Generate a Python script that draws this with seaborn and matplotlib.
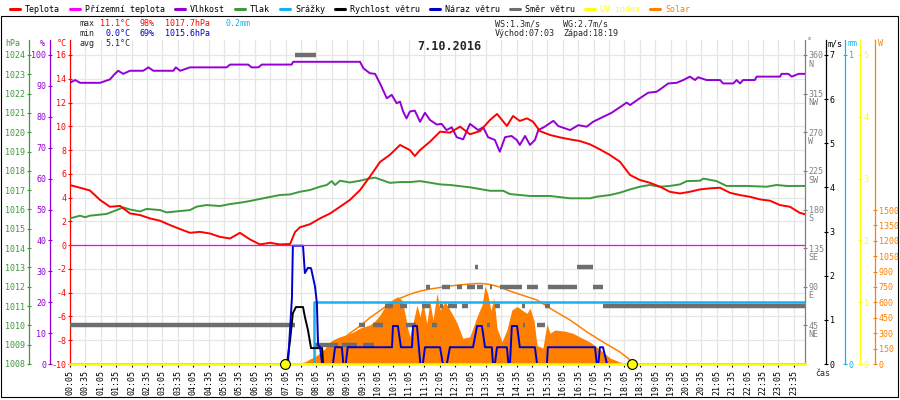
"""Daily weather station chart for 7.10.2016 (temperature, humidity, pressure,
rain, wind, solar) drawn with seaborn / matplotlib on stacked twin axes."""

import matplotlib
matplotlib.use("Agg")
import matplotlib.pyplot as plt
import pandas as pd
import seaborn as sns
from matplotlib.lines import Line2D
from matplotlib.patches import Rectangle

sns.set_theme(style="white")
plt.rcParams["font.family"] = ["DejaVu Sans Mono", "DejaVu Sans"]

# --------------------------------------------------------------------------
# Data (time in decimal hours)
# --------------------------------------------------------------------------
TEMP_TIME = [0.08, 0.41, 0.73, 1.06, 1.38, 1.71, 2.03, 2.36, 2.68, 3.01, 3.33,
             3.66, 3.98, 4.30, 4.63, 4.95, 5.28, 5.60, 5.93, 6.25, 6.58, 6.90,
             7.23, 7.39, 7.55, 7.88, 8.20, 8.53, 8.85, 9.17, 9.50, 9.82, 10.15,
             10.47, 10.80, 11.12, 11.28, 11.45, 11.77, 12.10, 12.42, 12.75,
             13.07, 13.40, 13.72, 13.95, 14.27, 14.47, 14.69, 14.92, 15.12,
             15.34, 15.67, 15.99, 16.32, 16.64, 16.97, 17.29, 17.62, 17.94,
             18.27, 18.59, 18.91, 19.24, 19.56, 19.89, 20.21, 20.54, 20.86,
             21.19, 21.51, 21.84, 22.16, 22.49, 22.81, 23.14, 23.46, 23.78, 23.95]
TEMP_VAL = [5.06, 4.83, 4.6, 3.8, 3.23, 3.3, 2.67, 2.53, 2.25, 2.05, 1.69,
            1.35, 1.04, 1.12, 0.98, 0.70, 0.56, 1.04, 0.48, 0.06, 0.2, 0.06,
            0.1, 1.1, 1.5, 1.77, 2.25, 2.67, 3.23, 3.8, 4.63, 5.76, 7.0,
            7.6, 8.43, 8.0, 7.5, 8.0, 8.7, 9.55, 9.47, 9.97,
            9.33, 9.6, 10.53, 11.04, 10.03, 10.87, 10.45, 10.67, 10.39,
            9.6, 9.27, 9.07, 8.9, 8.76, 8.48, 8.06, 7.58, 7.02,
            5.9, 5.48, 5.25, 4.92, 4.49, 4.35, 4.49, 4.69, 4.78,
            4.83, 4.41, 4.21, 4.07, 3.85, 3.74, 3.37, 3.23, 2.72, 2.6]

GROUND_TIME = [0.08, 23.95]
GROUND_VAL = [0.0, 0.0]

HUM_TIME = [0.08, 0.25, 0.41, 1.06, 1.38, 1.54, 1.65, 1.81, 2.03, 2.46, 2.63,
            2.79, 3.44, 3.52, 3.66, 3.98, 5.17, 5.28, 5.87, 5.98, 6.20, 6.31,
            7.28, 7.33, 9.50, 9.61, 9.82, 9.99, 10.15, 10.37, 10.53, 10.69,
            10.80, 10.90, 11.01, 11.12, 11.28, 11.45, 11.61, 11.77, 11.99,
            12.15, 12.31, 12.48, 12.64, 12.85, 13.07, 13.34, 13.50, 13.66,
            13.88, 14.04, 14.21, 14.42, 14.59, 14.69, 14.86, 15.02, 15.18,
            15.29, 15.50, 15.78, 15.94, 16.32, 16.59, 16.86, 17.07, 17.40,
            17.67, 18.00, 18.16, 18.27, 18.54, 18.86, 19.13, 19.29, 19.51,
            19.78, 20.00, 20.21, 20.38, 20.48, 20.75, 21.19, 21.29, 21.62,
            21.73, 21.84, 21.94, 22.32, 22.38, 23.14, 23.19, 23.41, 23.52,
            23.74, 23.95]
HUM_VAL = [91.0, 91.9, 91.0, 91.0, 92.1, 93.9, 94.9, 93.9, 94.9, 94.9, 96.0,
           94.9, 94.9, 96.0, 94.9, 96.0, 96.0, 96.9, 96.9, 96.0, 96.0, 96.9,
           96.9, 97.8, 97.8, 95.7, 94.1, 93.9, 90.8, 86.0, 87.1, 84.4,
           84.9, 81.7, 79.5, 81.7, 82.0, 78.4, 81.3, 79.0, 77.5,
           77.7, 75.7, 76.6, 73.4, 72.7, 77.7, 75.7, 76.6, 73.4,
           72.5, 68.7, 73.4, 73.8, 72.5, 70.9, 73.8, 70.9, 72.5,
           75.7, 76.8, 78.7, 77.0, 75.7, 77.3, 76.8, 78.4, 80.0,
           81.3, 83.5, 84.6, 83.8, 85.7, 87.8, 88.1, 89.2, 90.8,
           91.0, 91.9, 93.0, 91.9, 92.8, 91.9, 91.9, 90.8, 90.8,
           91.9, 90.8, 91.9, 91.9, 93.0, 93.0, 93.9, 93.9, 93.0,
           93.9, 93.9]

PRES_TIME = [0.08, 0.41, 0.57, 0.73, 1.27, 1.60, 1.81, 2.03, 2.36, 2.57, 3.01,
             3.22, 3.66, 3.98, 4.20, 4.52, 4.95, 5.28, 5.60, 5.93, 6.36, 6.90,
             7.23, 7.55, 7.88, 8.20, 8.42, 8.58, 8.69, 8.85, 9.17, 9.50, 9.82,
             9.99, 10.47, 10.80, 11.12, 11.45, 11.77, 12.10, 12.42, 13.07,
             13.72, 14.15, 14.37, 15.02, 15.67, 16.32, 16.97, 17.18, 17.62,
             17.94, 18.27, 18.59, 18.91, 19.24, 19.56, 19.89, 20.11, 20.54,
             20.65, 21.08, 21.40, 22.05, 22.70, 23.03, 23.35, 23.95]
PRES_VAL = [1015.54, 1015.68, 1015.60, 1015.68, 1015.77, 1015.97, 1016.11,
            1016.00, 1015.90, 1016.03, 1015.97, 1015.85, 1015.92, 1015.97,
            1016.15, 1016.23, 1016.18, 1016.28, 1016.35, 1016.44, 1016.58,
            1016.75, 1016.78, 1016.92, 1017.01, 1017.18, 1017.27, 1017.47,
            1017.27, 1017.49, 1017.40, 1017.49, 1017.61, 1017.65, 1017.38,
            1017.42, 1017.42, 1017.47, 1017.39, 1017.30, 1017.27, 1017.15,
            1016.97, 1016.97, 1016.80, 1016.70, 1016.70, 1016.58, 1016.58,
            1016.66, 1016.75, 1016.87, 1017.04, 1017.18, 1017.27, 1017.18,
            1017.22, 1017.30, 1017.47, 1017.49, 1017.60, 1017.47, 1017.22,
            1017.22, 1017.18, 1017.27, 1017.22, 1017.22]

RAIN_TIME = [0.08, 8.0, 23.95]
RAIN_VAL = [0.0, 0.2, 0.2]

SPEED_TIME = [0.08, 7.13, 7.23, 7.32, 7.42, 7.65, 7.71, 7.81, 7.91, 8.27, 8.30, 23.95]
SPEED_VAL = [0.0, 0.0, 0.54, 1.15, 1.29, 1.29, 1.07, 0.77, 0.36, 0.36, 0.0, 0.0]

GUST_TIME = [0.08, 7.16, 7.29, 7.32, 7.65, 7.71, 7.81, 7.91, 7.97, 8.04, 8.10,
             8.14, 8.20, 8.27, 8.62, 8.69, 8.91, 8.96, 9.04, 9.10, 10.54, 10.57,
             10.73, 10.83, 11.19, 11.22, 11.35, 11.46, 11.54, 11.61, 12.10,
             12.19, 12.32, 12.42, 13.17, 13.30, 13.46, 13.56, 13.78, 13.82,
             13.88, 13.95, 14.27, 14.32, 14.37, 14.43, 14.60, 14.69, 15.18,
             15.25, 15.57, 15.60, 17.13, 17.19, 17.24, 17.29, 17.39, 17.52, 23.95]
GUST_VAL = [0.0, 0.0, 1.5, 2.68, 2.68, 2.06, 2.18, 2.17, 1.98, 1.75, 1.38,
            0.43, 0.39, 0.0, 0.0, 0.38, 0.38, 0.0, 0.0, 0.38, 0.38, 0.86,
            0.86, 0.38, 0.38, 0.86, 0.86, 0.0, 0.0, 0.38, 0.38,
            0.0, 0.0, 0.38, 0.38, 0.86, 0.86, 0.38, 0.38, 0.0,
            0.0, 0.38, 0.38, 0.0, 0.0, 0.86, 0.86, 0.38, 0.38,
            0.0, 0.0, 0.38, 0.38, 0.0, 0.0, 0.38, 0.38, 0.0, 0.0]

# wind direction: runs of constant direction (start, end, degrees)
DIR_START = [0.08, 7.39, 8.04, 8.91, 9.60, 9.47, 9.92, 10.99, 11.84, 13.62,
             14.79, 15.25, 10.31, 10.80, 11.51, 12.10, 12.36, 12.81, 13.88,
             14.76, 15.51, 17.39, 11.64, 12.16, 12.65, 12.97, 13.30, 13.72,
             14.04, 14.92, 15.60, 17.06, 13.23, 16.54]
DIR_END = [7.39, 8.07, 8.78, 9.40, 9.95, 9.66, 10.25, 11.32, 12.00, 13.72,
           14.86, 15.51, 10.57, 11.02, 11.77, 12.19, 12.65, 13.01, 14.04,
           14.86, 15.67, 23.95, 11.77, 12.42, 12.81, 13.23, 13.49, 13.78,
           14.76, 15.28, 16.54, 17.39, 13.33, 17.06]
DIR_DEG = [45, 360, 22.5, 22.5, 22.5, 45, 45, 45, 45, 45,
           45, 45, 67.5, 67.5, 67.5, 67.5, 67.5, 67.5, 67.5,
           67.5, 67.5, 67.5, 90, 90, 90, 90, 90, 90,
           90, 90, 90, 90, 112.5, 112.5]

SOLAR_TIME = [7.00, 7.23, 7.55, 7.71, 7.88, 8.04, 8.20, 8.36, 8.53, 8.69, 8.85,
              9.01, 9.17, 9.34, 9.50, 9.66, 9.82, 9.99, 10.15, 10.31, 10.47,
              10.63, 10.73, 10.86, 10.96, 11.06, 11.12, 11.22, 11.35, 11.45,
              11.54, 11.67, 11.77, 11.87, 12.00, 12.10, 12.26, 12.42, 12.65,
              12.84, 13.07, 13.30, 13.46, 13.56, 13.65, 13.75, 13.85, 13.95,
              14.11, 14.27, 14.43, 14.60, 14.76, 14.92, 15.02, 15.15, 15.25,
              15.44, 15.57, 15.67, 15.83, 16.15, 16.41, 16.64, 16.97, 17.19,
              17.39, 17.62, 17.94, 18.27]
SOLAR_VAL = [0, 3, 10, 20, 50, 70, 110, 150, 217, 245, 266,
             280, 298, 320, 350, 365, 380, 420, 477, 558, 607,
             640, 655, 623, 493, 330, 266, 396, 574, 461,
             607, 396, 607, 428, 690, 526, 607, 526, 400,
             250, 266, 461, 574, 760, 680, 520, 640, 350,
             217, 331, 526, 560, 526, 493, 545, 420, 180,
             156, 390, 300, 331, 320, 300, 263, 214, 166,
             117, 58, 19, 0]

CLEAR_TIME = [7.03, 7.97, 8.20, 8.43, 8.69, 8.95, 9.17, 9.50, 9.82, 10.15,
              10.47, 10.80, 11.12, 11.45, 11.77, 12.10, 12.42, 12.75, 13.07,
              13.40, 13.72, 14.04, 14.37, 15.25, 15.77, 16.32, 16.87, 17.39,
              17.94, 18.27, 18.33]
CLEAR_VAL = [0, 5, 60, 110, 190, 240, 300, 370, 450, 520,
             590, 640, 680, 710, 730, 745, 760, 770, 780,
             785, 775, 750, 710, 623, 525, 428, 312, 214,
             117, 39, 0]

UV_TIME = [0.08, 23.95]
UV_VAL = [0.0, 0.0]

SUNRISE = "07:03"
SUNSET = "18:19"

STATS_MAX = ["11.1°C", "98%", "1017.7hPa", "0.2mm"]
STATS_MIN = ["0.0°C", "69%", "1015.6hPa"]
STATS_AVG = "5.1°C"
WIND_INFO = ["WS:1.3m/s", "WG:2.7m/s"]
TITLE = "7.10.2016"

LEGEND_LABELS = ["Teplota", "Přízemní teplota", "Vlhkost", "Tlak", "Srážky",
                 "Rychlost větru", "Náraz větru", "Směr větru", "UV index", "Solar"]

X_TICK_LABELS = [f"{h:02d}:{m}" for h in range(24) for m in ("05", "35")]

TEMP_TICKS = list(range(-10, 17, 2))
HUM_TICKS = list(range(0, 101, 10))
PRES_TICKS = list(range(1008, 1025))
DIR_TICKS = [45, 90, 135, 180, 225, 270, 315, 360]
DIR_NAMES = ["NE", "E", "SE", "S", "SW", "W", "NW", "N"]
WIND_TICKS = list(range(0, 8))
RAIN_TICKS = [0, 1]
UV_TICKS = list(range(0, 6))
SOLAR_TICKS = list(range(0, 1501, 150))

# --------------------------------------------------------------------------
# Colours
# --------------------------------------------------------------------------
RED = "#ff0000"
MAGENTA = "#ff00ff"
PURPLE = "#9400d3"
GREEN = "#3c9a3c"
CYAN = "#17b1ef"
BLUE = "#0000cc"
DIRGRAY = "#6e6e6e"
AXGRAY = "#808080"
YELLOW = "#ffff00"
ORANGE = "#ff8000"
GRID = "#e6e6e6"
LEGEND_COLOURS = [RED, MAGENTA, PURPLE, GREEN, CYAN, "black", BLUE, DIRGRAY,
                  YELLOW, ORANGE]

FS = 6


def hours(s):
    h, m = s.split(":")
    return int(h) + int(m) / 60


def fx(px):
    return px / 900


def fy(py):
    return 1 - py / 400


def top_of(lo, hi):
    # axes extend 15 px above the top tick (309 px between first and last tick)
    return hi + (hi - lo) * 15 / 309


# --------------------------------------------------------------------------
# Figure scaffold
# --------------------------------------------------------------------------
fig = plt.figure(figsize=(9, 4), dpi=100)
ax = fig.add_axes([fx(70), fy(364), fx(735), 324 / 400])
ax.set_facecolor("white")

ax_s = ax.twinx()    # solar
ax_d = ax.twinx()    # wind direction
ax_r = ax.twinx()    # rain
ax_w = ax.twinx()    # wind speed / gust
ax_uv = ax.twinx()   # UV
ax_p = ax.twinx()    # pressure
ax_h = ax.twinx()    # humidity
ax_t = ax.twinx()    # temperature lines (drawn on top)


def style_axis(a, side, pos, color, ticks, labels, lo, hi):
    a.set_ylim(lo, top_of(lo, hi))
    for sp in a.spines.values():
        sp.set_visible(False)
    sp = a.spines[side]
    sp.set_visible(True)
    sp.set_position(("axes", pos))
    sp.set_color(color)
    sp.set_linewidth(0.9)
    if side == "left":
        a.yaxis.tick_left()
    else:
        a.yaxis.tick_right()
    a.set_yticks(ticks)
    a.set_yticklabels(labels)
    a.tick_params(axis="y", direction="inout", length=3.5, width=0.8,
                  colors=color, labelsize=FS, pad=1)
    a.set_ylabel("")


style_axis(ax, "left", 0.0, RED, TEMP_TICKS, [str(v) for v in TEMP_TICKS], -10, 16)
style_axis(ax_h, "left", (50 - 70) / 735, PURPLE, HUM_TICKS,
           [str(v) for v in HUM_TICKS], 0, 100)
style_axis(ax_p, "left", (29 - 70) / 735, GREEN, PRES_TICKS,
           [str(v) for v in PRES_TICKS], 1008, 1024)
style_axis(ax_d, "right", 1.0, AXGRAY, DIR_TICKS, [str(v) for v in DIR_TICKS], 0, 360)
style_axis(ax_w, "right", (826 - 70) / 735, "black", WIND_TICKS,
           [str(v) for v in WIND_TICKS], 0, 7)
style_axis(ax_r, "right", (845 - 70) / 735, CYAN, RAIN_TICKS,
           [str(v) for v in RAIN_TICKS], 0, 1)
style_axis(ax_uv, "right", (860 - 70) / 735, YELLOW, UV_TICKS,
           [str(v) for v in UV_TICKS], 0, 5)
style_axis(ax_s, "right", (875 - 70) / 735, ORANGE, SOLAR_TICKS,
           [str(v) for v in SOLAR_TICKS], 0, 1500)
ax_s.set_ylim(0, 1500 * 324 / 154)

ax_t.set_ylim(ax.get_ylim())
ax_t.set_axis_off()

for d, name in zip(DIR_TICKS, DIR_NAMES):
    ax_d.annotate(name, xy=(1.0, d), xycoords=ax_d.get_yaxis_transform(),
                  xytext=(2.5, -3.4), textcoords="offset points",
                  ha="left", va="top", fontsize=FS, color=AXGRAY)

# x axis
x_ticks = [hours(s) for s in X_TICK_LABELS]
ax.set_xlim(5 / 60, 23.95)
ax.set_xticks(x_ticks)
ax.set_xticklabels(X_TICK_LABELS, rotation=90, fontsize=FS)
ax.tick_params(axis="x", direction="out", length=2.5, width=0.8,
               colors="black", pad=2, bottom=True)
ax.set_xlabel("")
ax.grid(True, color=GRID, lw=0.9)
ax.set_axisbelow(True)

# --------------------------------------------------------------------------
# Series
# --------------------------------------------------------------------------
ax_s.fill_between(SOLAR_TIME, SOLAR_VAL, color=ORANGE, lw=0)
sns.lineplot(x=CLEAR_TIME, y=CLEAR_VAL, ax=ax_s, color=ORANGE, lw=1.1,
             estimator=None, sort=False)

ax_d.hlines(DIR_DEG, DIR_START, DIR_END, colors=DIRGRAY, lw=3.2)

sns.lineplot(x=RAIN_TIME, y=RAIN_VAL, ax=ax_r, color=CYAN, lw=1.8,
             drawstyle="steps-post", estimator=None, sort=False)

sns.lineplot(x=SPEED_TIME, y=SPEED_VAL, ax=ax_w, color="black", lw=1.4,
             estimator=None, sort=False)
sns.lineplot(x=GUST_TIME, y=GUST_VAL, ax=ax_w, color=BLUE, lw=1.4,
             estimator=None, sort=False)

sns.lineplot(x=UV_TIME, y=UV_VAL, ax=ax_uv, color=YELLOW, lw=2.0,
             estimator=None, sort=False, clip_on=False)
sun = pd.DataFrame({"t": [hours(SUNRISE), hours(SUNSET)], "v": [0.0, 0.0]})
ax_uv.scatter(sun["t"], sun["v"], s=50, facecolor=YELLOW, edgecolor="black",
              lw=0.8, zorder=5, clip_on=False)

sns.lineplot(x=PRES_TIME, y=PRES_VAL, ax=ax_p, color=GREEN, lw=1.4,
             estimator=None, sort=False)
sns.lineplot(x=HUM_TIME, y=HUM_VAL, ax=ax_h, color=PURPLE, lw=1.4,
             estimator=None, sort=False)
sns.lineplot(x=GROUND_TIME, y=GROUND_VAL, ax=ax_t, color=MAGENTA,
             lw=0.9, estimator=None, sort=False)
sns.lineplot(x=TEMP_TIME, y=TEMP_VAL, ax=ax_t, color=RED, lw=1.4,
             estimator=None, sort=False)
ax_t.set_axis_off()

# --------------------------------------------------------------------------
# Header texts
# --------------------------------------------------------------------------
fig.add_artist(Rectangle((fx(0.5), fy(397)), fx(897.5), (397 - 16) / 400,
                         transform=fig.transFigure, fill=False,
                         ec="black", lw=0.8))

lx = 10
for label, colour in zip(LEGEND_LABELS, LEGEND_COLOURS):
    fig.add_artist(Line2D([fx(lx), fx(lx + 10)], [fy(9), fy(9)],
                          color=colour, lw=2.2, transform=fig.transFigure))
    tcol = colour if colour in (YELLOW, ORANGE) else "black"
    fig.text(fx(lx + 15), fy(9), label, ha="left", va="center",
             fontsize=FS, color=tcol)
    lx += 15 + 5 * len(label) + 10

fig.text(fx(80), fy(24), "max", fontsize=FS, va="center")
fig.text(fx(130), fy(24), STATS_MAX[0], fontsize=FS, va="center", ha="right", color=RED)
fig.text(fx(139), fy(24), STATS_MAX[1], fontsize=FS, va="center", color=RED)
fig.text(fx(165), fy(24), STATS_MAX[2], fontsize=FS, va="center", color=RED)
fig.text(fx(226), fy(24), STATS_MAX[3], fontsize=FS, va="center", color=CYAN)
fig.text(fx(80), fy(34), "min", fontsize=FS, va="center")
fig.text(fx(130), fy(34), STATS_MIN[0], fontsize=FS, va="center", ha="right", color=BLUE)
fig.text(fx(139), fy(34), STATS_MIN[1], fontsize=FS, va="center", color=BLUE)
fig.text(fx(165), fy(34), STATS_MIN[2], fontsize=FS, va="center", color=BLUE)
fig.text(fx(80), fy(44), "avg", fontsize=FS, va="center")
fig.text(fx(130), fy(44), STATS_AVG, fontsize=FS, va="center", ha="right")

fig.text(fx(495), fy(24), WIND_INFO[0], fontsize=FS, va="center")
fig.text(fx(563), fy(24), WIND_INFO[1], fontsize=FS, va="center")
fig.text(fx(495), fy(34), f"Východ:{SUNRISE}", fontsize=FS, va="center")
fig.text(fx(563), fy(34), f"Západ:{SUNSET}", fontsize=FS, va="center")

fig.text(fx(449), fy(46), TITLE, fontsize=8.5, fontweight="bold",
         ha="center", va="center")

fig.text(fx(13), fy(43), "hPa", fontsize=FS, color=GREEN, ha="center", va="center")
fig.text(fx(42), fy(43), "%", fontsize=FS, color=PURPLE, ha="center", va="center")
fig.text(fx(62), fy(43), "°C", fontsize=FS, color=RED, ha="center", va="center")
fig.text(fx(809), fy(42), "°", fontsize=FS, color=AXGRAY, ha="center", va="center")
fig.text(fx(835), fy(44), "m/s", fontsize=FS, color="black", ha="center", va="center")
fig.text(fx(853), fy(44), "mm", fontsize=FS, color=CYAN, ha="center", va="center")
fig.text(fx(880), fy(44), "W", fontsize=FS, color=ORANGE, ha="center", va="center")
fig.text(fx(815), fy(374), "čas", fontsize=FS, ha="left", va="center")

fig.savefig("out.png", dpi=100)
